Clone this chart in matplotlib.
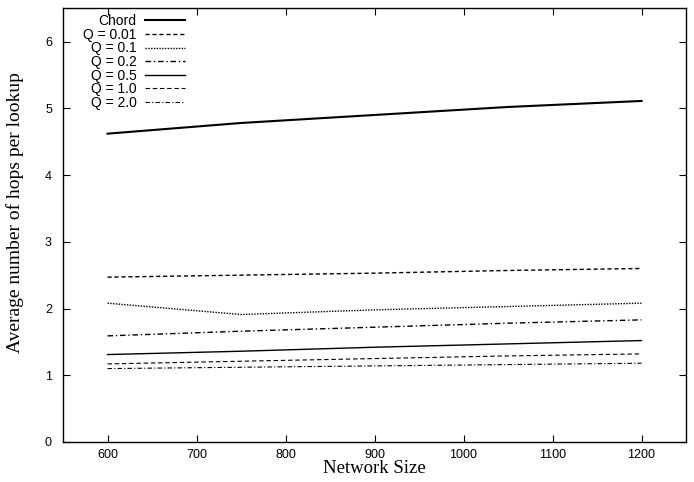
import matplotlib.pyplot as plt

# Average lookup path length vs. network size
network_size = [600, 750, 900, 1050, 1200]
chord = [4.62, 4.78, 4.90, 5.02, 5.11]
q_001 = [2.47, 2.50, 2.53, 2.57, 2.60]
q_01 = [2.08, 1.91, 1.98, 2.03, 2.08]
q_02 = [1.59, 1.66, 1.72, 1.78, 1.83]
q_05 = [1.31, 1.36, 1.42, 1.47, 1.52]
q_10 = [1.17, 1.21, 1.25, 1.29, 1.32]
q_20 = [1.10, 1.12, 1.14, 1.16, 1.18]

series = [
    ("Chord", chord, "-", 1.5),
    ("Q = 0.01", q_001, (0, (3, 2)), 1.0),
    ("Q = 0.1", q_01, (0, (1, 1)), 1.0),
    ("Q = 0.2", q_02, (0, (4, 2, 1, 2)), 1.0),
    ("Q = 0.5", q_05, "-", 1.0),
    ("Q = 1.0", q_10, (0, (4, 2.5)), 0.8),
    ("Q = 2.0", q_20, (0, (4, 2, 1, 2)), 0.8),
]

sans = ["Liberation Sans", "DejaVu Sans"]
serif = ["Liberation Serif", "DejaVu Serif"]

fig = plt.figure(figsize=(6.94, 4.82), dpi=100)
ax = fig.add_axes([0.0908, 0.083, 0.8977, 0.9])

for label, values, style, width in series:
    ax.plot(network_size, values, linestyle=style, linewidth=width,
            color="black", label=label)

ax.set_xlim(550, 1250)
ax.set_ylim(0, 6.5)
ax.set_xticks(range(600, 1201, 100))
ax.set_yticks(range(0, 7))
ax.tick_params(direction="in", length=5, width=0.8, top=True, right=True,
               labelsize=9)
ax.tick_params(axis="x", pad=5)
ax.tick_params(axis="y", pad=8)
for lbl in ax.get_xticklabels() + ax.get_yticklabels():
    lbl.set_family(sans)
for spine in ax.spines.values():
    spine.set_linewidth(1.0)

ax.set_xlabel("Network Size", family=serif, fontsize=13.5)
ax.set_ylabel("Average number of hops per lookup", family=serif, fontsize=14)
ax.xaxis.set_label_coords(0.5, -0.042)
ax.yaxis.set_label_coords(-0.062, 0.528)

ax.legend(loc="upper right", markerfirst=False, frameon=False,
          prop={"family": sans, "size": 10}, handlelength=2.9,
          labelspacing=-0.03, handletextpad=0.6, borderpad=0,
          borderaxespad=0, bbox_to_anchor=(0.196, 0.986))

fig.savefig("out.png", dpi=100)
